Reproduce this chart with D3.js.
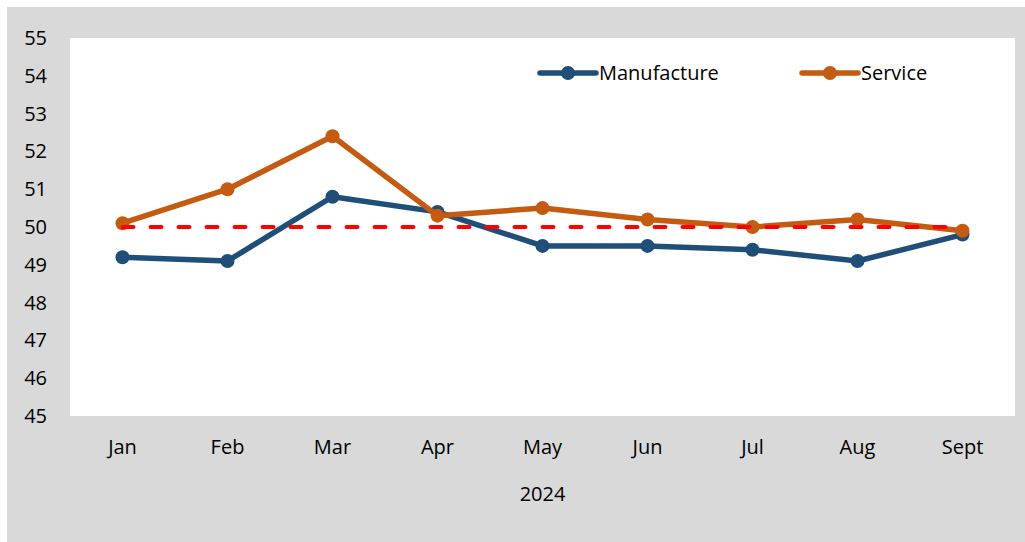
<!DOCTYPE html>
<html>
<head>
<meta charset="utf-8">
<script src="https://cdn.jsdelivr.net/npm/d3@7"></script>
<style>
  html, body { margin: 0; padding: 0; background: #ffffff; }
  svg { display: block; }
</style>
</head>
<body>
<div id="chart"></div>
<script>
// Data
const months = ["Jan", "Feb", "Mar", "Apr", "May", "Jun", "Jul", "Aug", "Sept"];
const manufacture = [49.2, 49.1, 50.8, 50.4, 49.5, 49.5, 49.4, 49.1, 49.8];
const service = [50.1, 51.0, 52.4, 50.3, 50.5, 50.2, 50.0, 50.2, 49.9];
const threshold = [50, 50, 50, 50, 50, 50, 50, 50, 50];
const yTicks = [45, 46, 47, 48, 49, 50, 51, 52, 53, 54, 55];
const yearLabel = "2024";

const width = 1025;
const height = 542;
const font = "'Open Sans', sans-serif";
const fontSize = 20;

// Plot area
const plot = { left: 70, right: 1015, top: 38, bottom: 416 };

const svg = d3.select("#chart")
    .append("svg")
    .attr("width", width)
    .attr("height", height);

// Grey chart background
svg.append("rect")
    .attr("x", 7)
    .attr("y", 7)
    .attr("width", width - 7)
    .attr("height", height - 7)
    .attr("fill", "#d9d9d9");

// White plot background
svg.append("rect")
    .attr("x", plot.left)
    .attr("y", plot.top)
    .attr("width", plot.right - plot.left)
    .attr("height", plot.bottom - plot.top)
    .attr("fill", "#ffffff");

const x = d3.scaleBand()
    .domain(months)
    .range([plot.left, plot.right]);

const y = d3.scaleLinear()
    .domain([45, 55])
    .range([plot.bottom, plot.top]);

const cx = (d, i) => x(months[i]) + x.bandwidth() / 2;

// Y axis
const yAxis = svg.append("g")
    .attr("transform", `translate(${plot.left - 23},0)`)
    .call(d3.axisLeft(y).tickValues(yTicks).tickSize(0).tickPadding(0));
yAxis.select(".domain").remove();
yAxis.selectAll("text")
    .attr("font-family", font)
    .attr("font-size", fontSize)
    .attr("fill", "#000000");

// X axis
const xAxis = svg.append("g")
    .attr("transform", `translate(0,${plot.bottom})`)
    .call(d3.axisBottom(x).tickSize(0).tickPadding(24));
xAxis.select(".domain").remove();
xAxis.selectAll("text")
    .attr("font-family", font)
    .attr("font-size", fontSize)
    .attr("fill", "#000000");

svg.append("text")
    .attr("x", (plot.left + plot.right) / 2)
    .attr("y", 501)
    .attr("text-anchor", "middle")
    .attr("font-family", font)
    .attr("font-size", fontSize)
    .attr("fill", "#000000")
    .text(yearLabel);

// Series
const series = [
    { name: "Manufacture", values: manufacture, color: "#1f4e79" },
    { name: "Service", values: service, color: "#c55a11" },
];

const line = d3.line()
    .x(cx)
    .y(d => y(d));

series.forEach(s => {
    svg.append("path")
        .datum(s.values)
        .attr("d", line)
        .attr("fill", "none")
        .attr("stroke", s.color)
        .attr("stroke-width", 5.5)
        .attr("stroke-linejoin", "round")
        .attr("stroke-linecap", "round");

    svg.append("g")
        .selectAll("circle")
        .data(s.values)
        .enter()
        .append("circle")
        .attr("cx", cx)
        .attr("cy", d => y(d))
        .attr("r", 7)
        .attr("fill", s.color);
});

// 50 threshold line
svg.append("path")
    .datum(threshold)
    .attr("d", line)
    .attr("fill", "none")
    .attr("stroke", "#ff0000")
    .attr("stroke-width", 4)
    .attr("stroke-linecap", "round")
    .attr("stroke-dasharray", "11,17");

// Legend
const legend = svg.append("g");
const legendItems = [
    { x: 540, series: series[0] },
    { x: 802, series: series[1] },
];
legendItems.forEach(item => {
    const g = legend.append("g").attr("transform", `translate(${item.x},73)`);
    g.append("line")
        .attr("x1", 0)
        .attr("x2", 56)
        .attr("stroke", item.series.color)
        .attr("stroke-width", 5.5)
        .attr("stroke-linecap", "round");
    g.append("circle")
        .attr("cx", 28)
        .attr("r", 7)
        .attr("fill", item.series.color);
    g.append("text")
        .attr("x", 59)
        .attr("dy", "0.35em")
        .attr("font-family", font)
        .attr("font-size", fontSize)
        .attr("fill", "#000000")
        .text(item.series.name);
});
</script>
</body>
</html>
